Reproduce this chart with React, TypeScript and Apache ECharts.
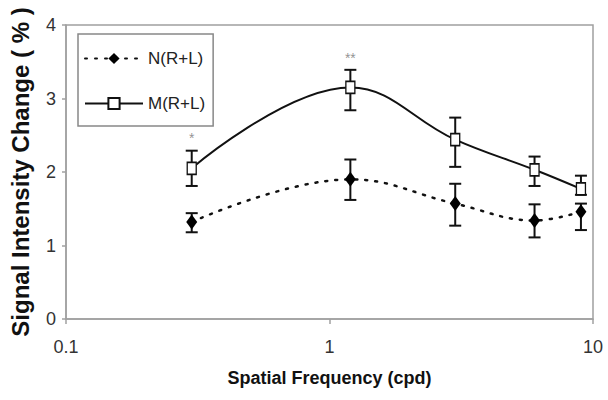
import React, { useEffect, useRef } from "react";
import * as echarts from "echarts";

const freq = [0.3, 1.2, 3, 6, 9];
const nMean = [1.32, 1.9, 1.57, 1.34, 1.46];
const nLow = [1.18, 1.62, 1.27, 1.11, 1.21];
const nHigh = [1.44, 2.17, 1.84, 1.56, 1.57];
const mMean = [2.05, 3.15, 2.44, 2.03, 1.77];
const mLow = [1.81, 2.84, 2.07, 1.81, 1.69];
const mHigh = [2.29, 3.39, 2.74, 2.21, 1.95];
const sigX = [0.3, 1.2];
const sigY = [2.46, 3.55];
const sigText = ["*", "**"];
const seriesNames = ["N(R+L)", "M(R+L)"];

const SANS = '"Liberation Sans", Arial, sans-serif';

function errData(low: number[], high: number[]) {
  return freq.map((x, i) => [x, low[i], high[i]]);
}

const errRender = (params: any, api: any) => {
  const x = api.value(0);
  const lo = api.coord([x, api.value(1)]);
  const hi = api.coord([x, api.value(2)]);
  const hw = 6;
  const style = { stroke: "#111", lineWidth: 2 };
  return {
    type: "group",
    children: [
      { type: "line", shape: { x1: lo[0], y1: lo[1], x2: hi[0], y2: hi[1] }, style },
      { type: "line", shape: { x1: hi[0] - hw, y1: hi[1], x2: hi[0] + hw, y2: hi[1] }, style },
      { type: "line", shape: { x1: lo[0] - hw, y1: lo[1], x2: lo[0] + hw, y2: lo[1] }, style },
    ],
  };
};

export default function App() {
  const ref = useRef<HTMLDivElement>(null);
  useEffect(() => {
    const chart = echarts.init(ref.current!, null, { renderer: "svg" });
    chart.setOption({
      animation: false,
      backgroundColor: "#fff",
      grid: {
        left: 65,
        right: 15,
        top: 25,
        bottom: 81,
        show: true,
        borderColor: "#a0a0a0",
        borderWidth: 1.5,
      },
      legend: {
        left: 78,
        top: 34,
        orient: "vertical",
        data: seriesNames,
        borderColor: "#888",
        borderWidth: 1.5,
        padding: [16, 8, 14, 6],
        itemWidth: 58,
        itemHeight: 14,
        itemGap: 28,
        textStyle: { fontFamily: SANS, fontSize: 17, color: "#222" },
      },
      xAxis: {
        type: "log",
        logBase: 10,
        min: 0.1,
        max: 10,
        name: "Spatial Frequency (cpd)",
        nameLocation: "middle",
        nameGap: 50,
        nameTextStyle: { fontFamily: SANS, fontSize: 18, fontWeight: "bold", color: "#111" },
        axisLine: { lineStyle: { color: "#a0a0a0", width: 1.5 } },
        axisTick: { show: true, length: 5, lineStyle: { color: "#a0a0a0", width: 1.5 } },
        minorTick: { show: false },
        splitLine: { show: false },
        axisLabel: {
          fontFamily: SANS,
          fontSize: 18,
          color: "#333",
          margin: 19,
          formatter: (v: number) => String(v),
        },
      },
      yAxis: {
        type: "value",
        min: 0,
        max: 4,
        interval: 1,
        name: "Signal Intensity Change ( % )",
        nameLocation: "middle",
        nameGap: 34,
        nameTextStyle: { fontFamily: SANS, fontSize: 24, fontWeight: "bold", color: "#111" },
        axisLine: { show: true, lineStyle: { color: "#a0a0a0", width: 1.5 } },
        axisTick: { show: true, length: 4, lineStyle: { color: "#a0a0a0", width: 1.5 } },
        splitLine: { show: false },
        axisLabel: { fontFamily: SANS, fontSize: 18, color: "#333", margin: 10 },
      },
      series: [
        {
          type: "custom",
          name: "errN",
          renderItem: errRender,
          data: errData(nLow, nHigh),
          z: 2,
          silent: true,
        },
        {
          type: "custom",
          name: "errM",
          renderItem: errRender,
          data: errData(mLow, mHigh),
          z: 2,
          silent: true,
        },
        {
          type: "line",
          name: seriesNames[0],
          data: freq.map((x, i) => [x, nMean[i]]),
          smooth: 0.4,
          symbol: "diamond",
          symbolSize: [11, 15],
          itemStyle: { color: "#000" },
          lineStyle: { color: "#111", width: 2.5, type: [2, 8], cap: "round" },
          z: 3,
        },
        {
          type: "line",
          name: seriesNames[1],
          data: freq.map((x, i) => [x, mMean[i]]),
          smooth: 0.4,
          symbol: "rect",
          symbolSize: [9, 12],
          showAllSymbol: true,
          itemStyle: { color: "#fff", borderColor: "#111", borderWidth: 1.5 },
          lineStyle: { color: "#111", width: 2 },
          z: 3,
        },
        {
          type: "scatter",
          name: "sig",
          data: sigX.map((x, i) => [x, sigY[i]]),
          symbolSize: 1,
          itemStyle: { color: "rgba(0,0,0,0)" },
          silent: true,
          z: 4,
          label: {
            show: true,
            position: "inside",
            formatter: (p: any) => sigText[p.dataIndex],
            fontSize: 14,
            color: "#777",
            fontFamily: SANS,
          },
        },
      ],
    });
    return () => chart.dispose();
  }, []);
  return (
    <div style={{ position: "fixed", left: 0, top: 0, width: 608, height: 400, background: "#fff" }}>
      <div ref={ref} style={{ width: 608, height: 400 }} />
    </div>
  );
}
